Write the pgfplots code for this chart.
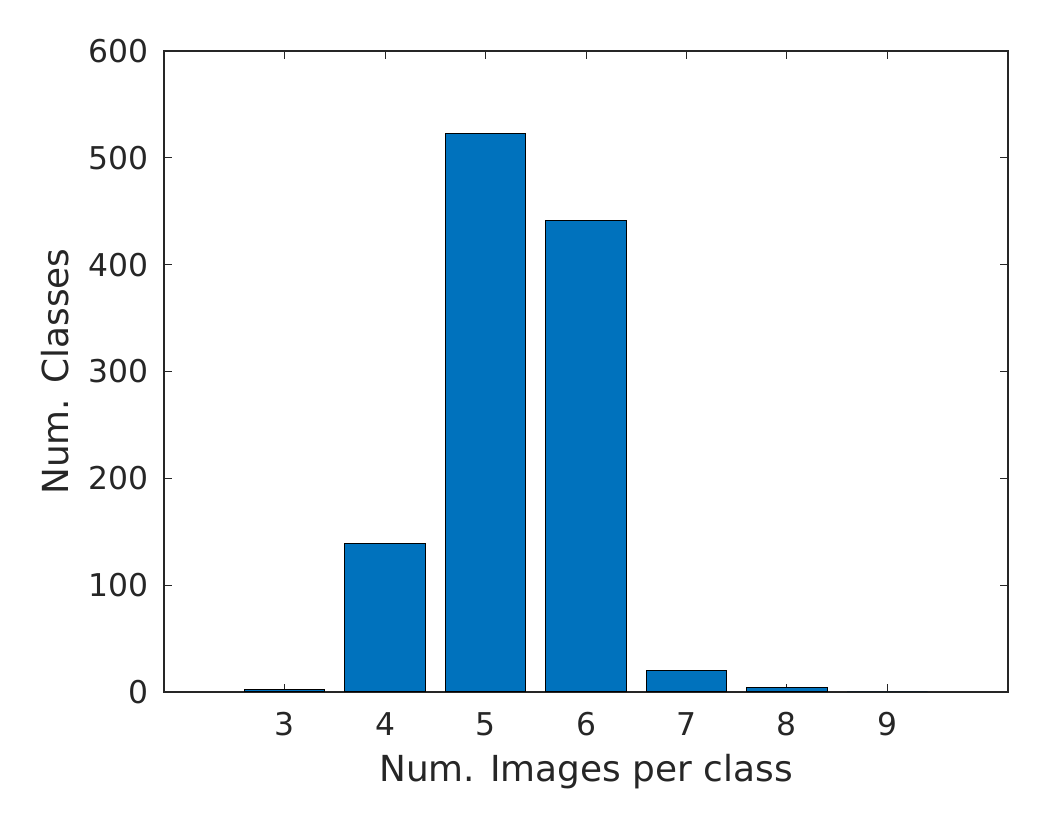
\documentclass[border=0pt]{standalone}
\usepackage{pgfplots}
\pgfplotsset{compat=1.18}
\usepackage{fontspec}
\setmainfont{DejaVu Sans}
\definecolor{barblue}{RGB}{0,114,189}
\definecolor{txt}{RGB}{38,38,38}
\begin{document}
\begin{tikzpicture}
\useasboundingbox (0,0) rectangle (1044bp,834bp);
\begin{axis}[
  at={(164bp,142bp)}, anchor=south west,
  scale only axis, width=844bp, height=641bp,
  xmin=1.8, xmax=10.2, ymin=0, ymax=600,
  ybar, bar width=0.8,
  xtick={3,4,5,6,7,8,9}, ytick={0,100,...,600},
  tick pos=both, xtick pos=both, ytick pos=both,
  tick align=inside, xtick align=inside, ytick align=inside,
  major tick length=8bp,
  axis line style={txt, line width=1.2bp},
  every tick/.style={txt, line width=1bp},
  tick label style={font=\fontsize{31.5}{36}\selectfont, text=txt},
  xticklabel style={yshift=-17bp},
  yticklabel style={xshift=-12bp},
  label style={font=\fontsize{36}{42}\selectfont, text=txt},
  xlabel style={at={(axis description cs:0.5,0)}, anchor=center, yshift=-80bp},
  ylabel style={at={(axis description cs:0,0.5)}, anchor=center, xshift=0bp, yshift=109bp},
  /pgf/number format/assume math mode=true,
  xlabel={Num. Images per class},
  ylabel={Num. Classes},
]
\addplot[fill=barblue, draw=black, line width=1bp] coordinates {(3,2) (4,139) (5,523) (6,441) (7,20) (8,4) (9,0)};
\end{axis}
\end{tikzpicture}
\end{document}
